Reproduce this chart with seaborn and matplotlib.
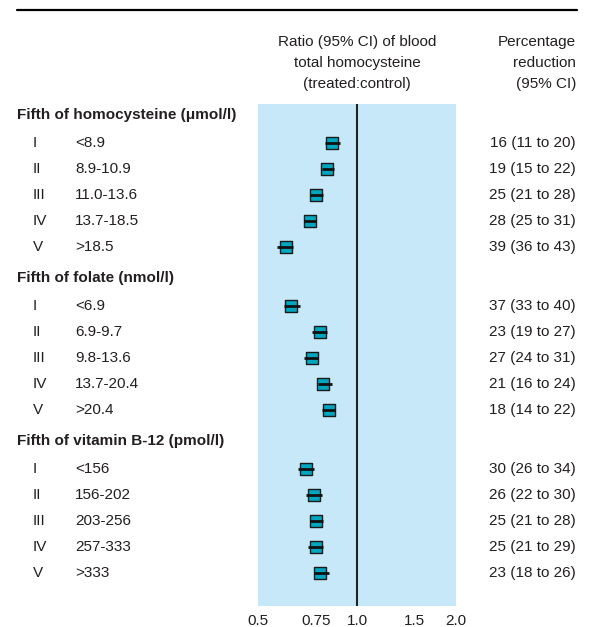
import numpy as np
import pandas as pd
import matplotlib
matplotlib.use("Agg")
import matplotlib.pyplot as plt
import seaborn as sns
from matplotlib import font_manager

# donnees
groups = ["Fifth of homocysteine (\u03bcmol/l)", "Fifth of folate (nmol/l)", "Fifth of vitamin B-12 (pmol/l)"]
fifths = ["I", "II", "III", "IV", "V"]
ranges_hcy = ["<8.9", "8.9-10.9", "11.0-13.6", "13.7-18.5", ">18.5"]
ranges_fol = ["<6.9", "6.9-9.7", "9.8-13.6", "13.7-20.4", ">20.4"]
ranges_b12 = ["<156", "156-202", "203-256", "257-333", ">333"]
red_hcy = [16, 19, 25, 28, 39]
lo_hcy = [11, 15, 21, 25, 36]
hi_hcy = [20, 22, 28, 31, 43]
red_fol = [37, 23, 27, 21, 18]
lo_fol = [33, 19, 24, 16, 14]
hi_fol = [40, 27, 31, 24, 22]
red_b12 = [30, 26, 25, 25, 23]
lo_b12 = [26, 22, 21, 21, 18]
hi_b12 = [34, 30, 28, 29, 26]
xticks = [0.5, 0.75, 1.0, 1.5, 2.0]
xtick_labels = ["0.5", "0.75", "1.0", "1.5", "2.0"]

sns.set_theme(style="white")
names = [f.name for f in font_manager.fontManager.ttflist]
narrow = "Liberation Sans Narrow" in names
plt.rcParams["font.family"] = ["Liberation Sans Narrow" if narrow else "Liberation Sans", "DejaVu Sans"]
fs = 12.5 if narrow else 11

W, H = 592, 627
fig = plt.figure(figsize=(W / 100, H / 100), dpi=100)
fx = lambda x: x / W
fy = lambda y: 1 - y / H

txt = "#231f20"

# construire la table
rows = []
all_ranges = [ranges_hcy, ranges_fol, ranges_b12]
all_red = [red_hcy, red_fol, red_b12]
all_lo = [lo_hcy, lo_fol, lo_b12]
all_hi = [hi_hcy, hi_fol, hi_b12]
header_y = [115, 278, 441]
for g in range(3):
    for i in range(5):
        rows.append({
            "group": groups[g],
            "fifth": fifths[i],
            "range": all_ranges[g][i],
            "reduction": all_red[g][i],
            "lo": all_lo[g][i],
            "hi": all_hi[g][i],
            "ypix": header_y[g] + 28 + 26 * i,
        })
df = pd.DataFrame(rows)
df["ratio"] = 1 - df["reduction"] / 100
df["ratio_lo"] = 1 - df["hi"] / 100
df["ratio_hi"] = 1 - df["lo"] / 100

# panel du graphique
ax = fig.add_axes([fx(258), fy(606), fx(456) - fx(258), (606 - 104) / H])
ax.set_facecolor("#c6e8f8")
ax.set_xscale("log", base=2)
ax.set_xlim(0.5, 2.0)
ax.set_ylim(606, 104)
ax.axvline(1.0, color="#222222", lw=1.5, zorder=1)
sns.scatterplot(data=df, x="ratio", y="ypix", marker="s", s=78, color="#00a6bf",
                edgecolor="#1a1a1a", linewidth=1.0, ax=ax, zorder=3, legend=False)
ax.hlines(df["ypix"], df["ratio_lo"], df["ratio_hi"], color="#111111", lw=2, zorder=4)
ax.set_xticks(xticks)
ax.set_xticklabels(xtick_labels, fontsize=fs, color=txt)
ax.minorticks_off()
ax.set_yticks([])
ax.tick_params(axis="x", direction="in", length=4, width=1.5, color="white", pad=6)
ax.set_xlabel("")
ax.set_ylabel("")
for s in ax.spines.values():
    s.set_visible(False)

# ligne du haut
fig.add_artist(plt.Line2D([fx(17), fx(577)], [fy(10), fy(10)], color="black", lw=1.6))

# en-tetes
fig.text(fx(357), fy(63), "Ratio (95% CI) of blood\ntotal homocysteine\n(treated:control)",
         ha="center", va="center", ma="center", fontsize=fs, color=txt, linespacing=1.6)
fig.text(fx(576), fy(63), "Percentage\nreduction\n(95% CI)",
         ha="right", va="center", ma="right", fontsize=fs, color=txt, linespacing=1.6)

# texte des lignes
for g in range(3):
    fig.text(fx(17), fy(header_y[g]), groups[g], ha="left", va="center",
             fontsize=fs, fontweight="bold", color=txt)
for _, r in df.iterrows():
    y = fy(r["ypix"])
    fig.text(fx(33), y, r["fifth"], ha="left", va="center", fontsize=fs, color=txt)
    fig.text(fx(75), y, r["range"], ha="left", va="center", fontsize=fs, color=txt)
    fig.text(fx(576), y, f'{r["reduction"]} ({r["lo"]} to {r["hi"]})',
             ha="right", va="center", fontsize=fs, color=txt)

fig.savefig("out.png", dpi=100)
